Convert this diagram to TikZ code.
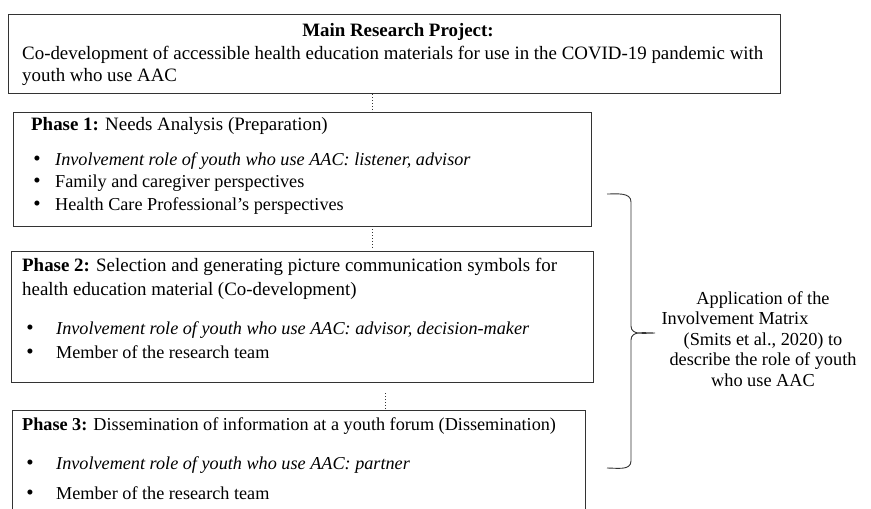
\documentclass[tikz,border=0pt]{standalone}
\usepackage{fontspec}
\setmainfont{Liberation Serif}
\usetikzlibrary{positioning,calc}
\begin{document}
\begin{tikzpicture}[x=1pt,y=-1pt,
  box/.style={draw=black!80,line width=1.3pt,rectangle,inner sep=0,anchor=north west},
  txt/.style={inner sep=0,anchor=base west,font=\fontsize{18.9}{22}\selectfont},
  btxt/.style={inner sep=0,anchor=base west,font=\fontsize{18.2}{22}\selectfont},
  bul/.style={inner sep=0,anchor=base,font=\fontsize{21}{22}\selectfont},
  conn/.style={draw=black!80,line width=0.9pt,dotted},
  brace/.style={draw=black!80,line width=0.9pt}]
\useasboundingbox (0,0) rectangle (871,509);
\begin{scope}
\clip (0,0) rectangle (871,509);
% boxes
\node[box,minimum width=578pt,minimum height=114pt] (p1) at (13,112) {};
\node[box,minimum width=772pt,minimum height=79pt] (main) at (8,14) {};
\node[box,minimum width=582pt,minimum height=131pt] (p2) at (11,251) {};
\node[box,minimum width=573pt,minimum height=115pt] (p3) at (12,410) {};
\end{scope}
% main text
\node[inner sep=0,anchor=base,font=\fontsize{18.9}{22}\selectfont\bfseries] (mt) at (398,36) {Main Research Project:};
\node[txt] (m1) at (22,59) {Co-development of accessible health education materials for use in the COVID-19 pandemic with};
\node[txt] (m2) at (22,81) {youth who use AAC};
% phase 1
\node[txt] (p1t) at (31,130) {\textbf{Phase 1:} Needs Analysis (Preparation)};
\node[bul] (p1b1) at (37,165) {\textbullet};
\node[btxt] (p1a) at (55,165) {\itshape Involvement role of youth who use AAC: listener, advisor};
\node[bul] (p1b2) at (37,187) {\textbullet};
\node[btxt] (p1b) at (55,187) {Family and caregiver perspectives};
\node[bul] (p1b3) at (37,210) {\textbullet};
\node[btxt] (p1c) at (55,210) {Health Care Professional’s perspectives};
% phase 2
\node[txt] (p2t) at (22,271) {\textbf{Phase 2:} Selection and generating picture communication symbols for};
\node[txt] (p2t2) at (22,295) {health education material (Co-development)};
\node[bul] (p2b1) at (30,334) {\textbullet};
\node[btxt] (p2a) at (56,334) {\itshape Involvement role of youth who use AAC: advisor, decision-maker};
\node[bul] (p2b2) at (30,358) {\textbullet};
\node[btxt] (p2b) at (56,358) {Member of the research team};
% phase 3
\node[btxt] (p3t) at (22,430) {\textbf{Phase 3:} Dissemination of information at a youth forum (Dissemination)};
\node[bul] (p3b1) at (30,469) {\textbullet};
\node[btxt] (p3a) at (56,469) {\itshape Involvement role of youth who use AAC: partner};
\node[bul] (p3b2) at (30,499) {\textbullet};
\node[btxt] (p3b) at (56,499) {Member of the research team};
% connectors
\coordinate (c1) at (372,0);
\coordinate (c2) at (385,0);
\draw[conn] (main.south -| c1) -- (p1.north -| c1);
\draw[conn,shorten <=2pt,shorten >=3pt] (p1.south -| c1) -- (p2.north -| c1);
\draw[conn,shorten <=10pt] (p2.south -| c2) -- (p3.north -| c2);
% brace
\draw[brace] (607,194) to[out=0,in=90] (631,202) -- (631,326) to[out=-90,in=180] (655,333)
  (655,333) to[out=180,in=90] (631,340) -- (631,461) to[out=-90,in=0] (607,468);
\node[inner sep=0,anchor=base,align=center,font=\fontsize{18.3}{20.5}\selectfont] (app) at (763,386)
  {Application of the\\ Involvement Matrix\hspace*{56pt}\mbox{}\\ (Smits et al., 2020) to\\ describe the role of youth\\ who use AAC};
\end{tikzpicture}
\end{document}
